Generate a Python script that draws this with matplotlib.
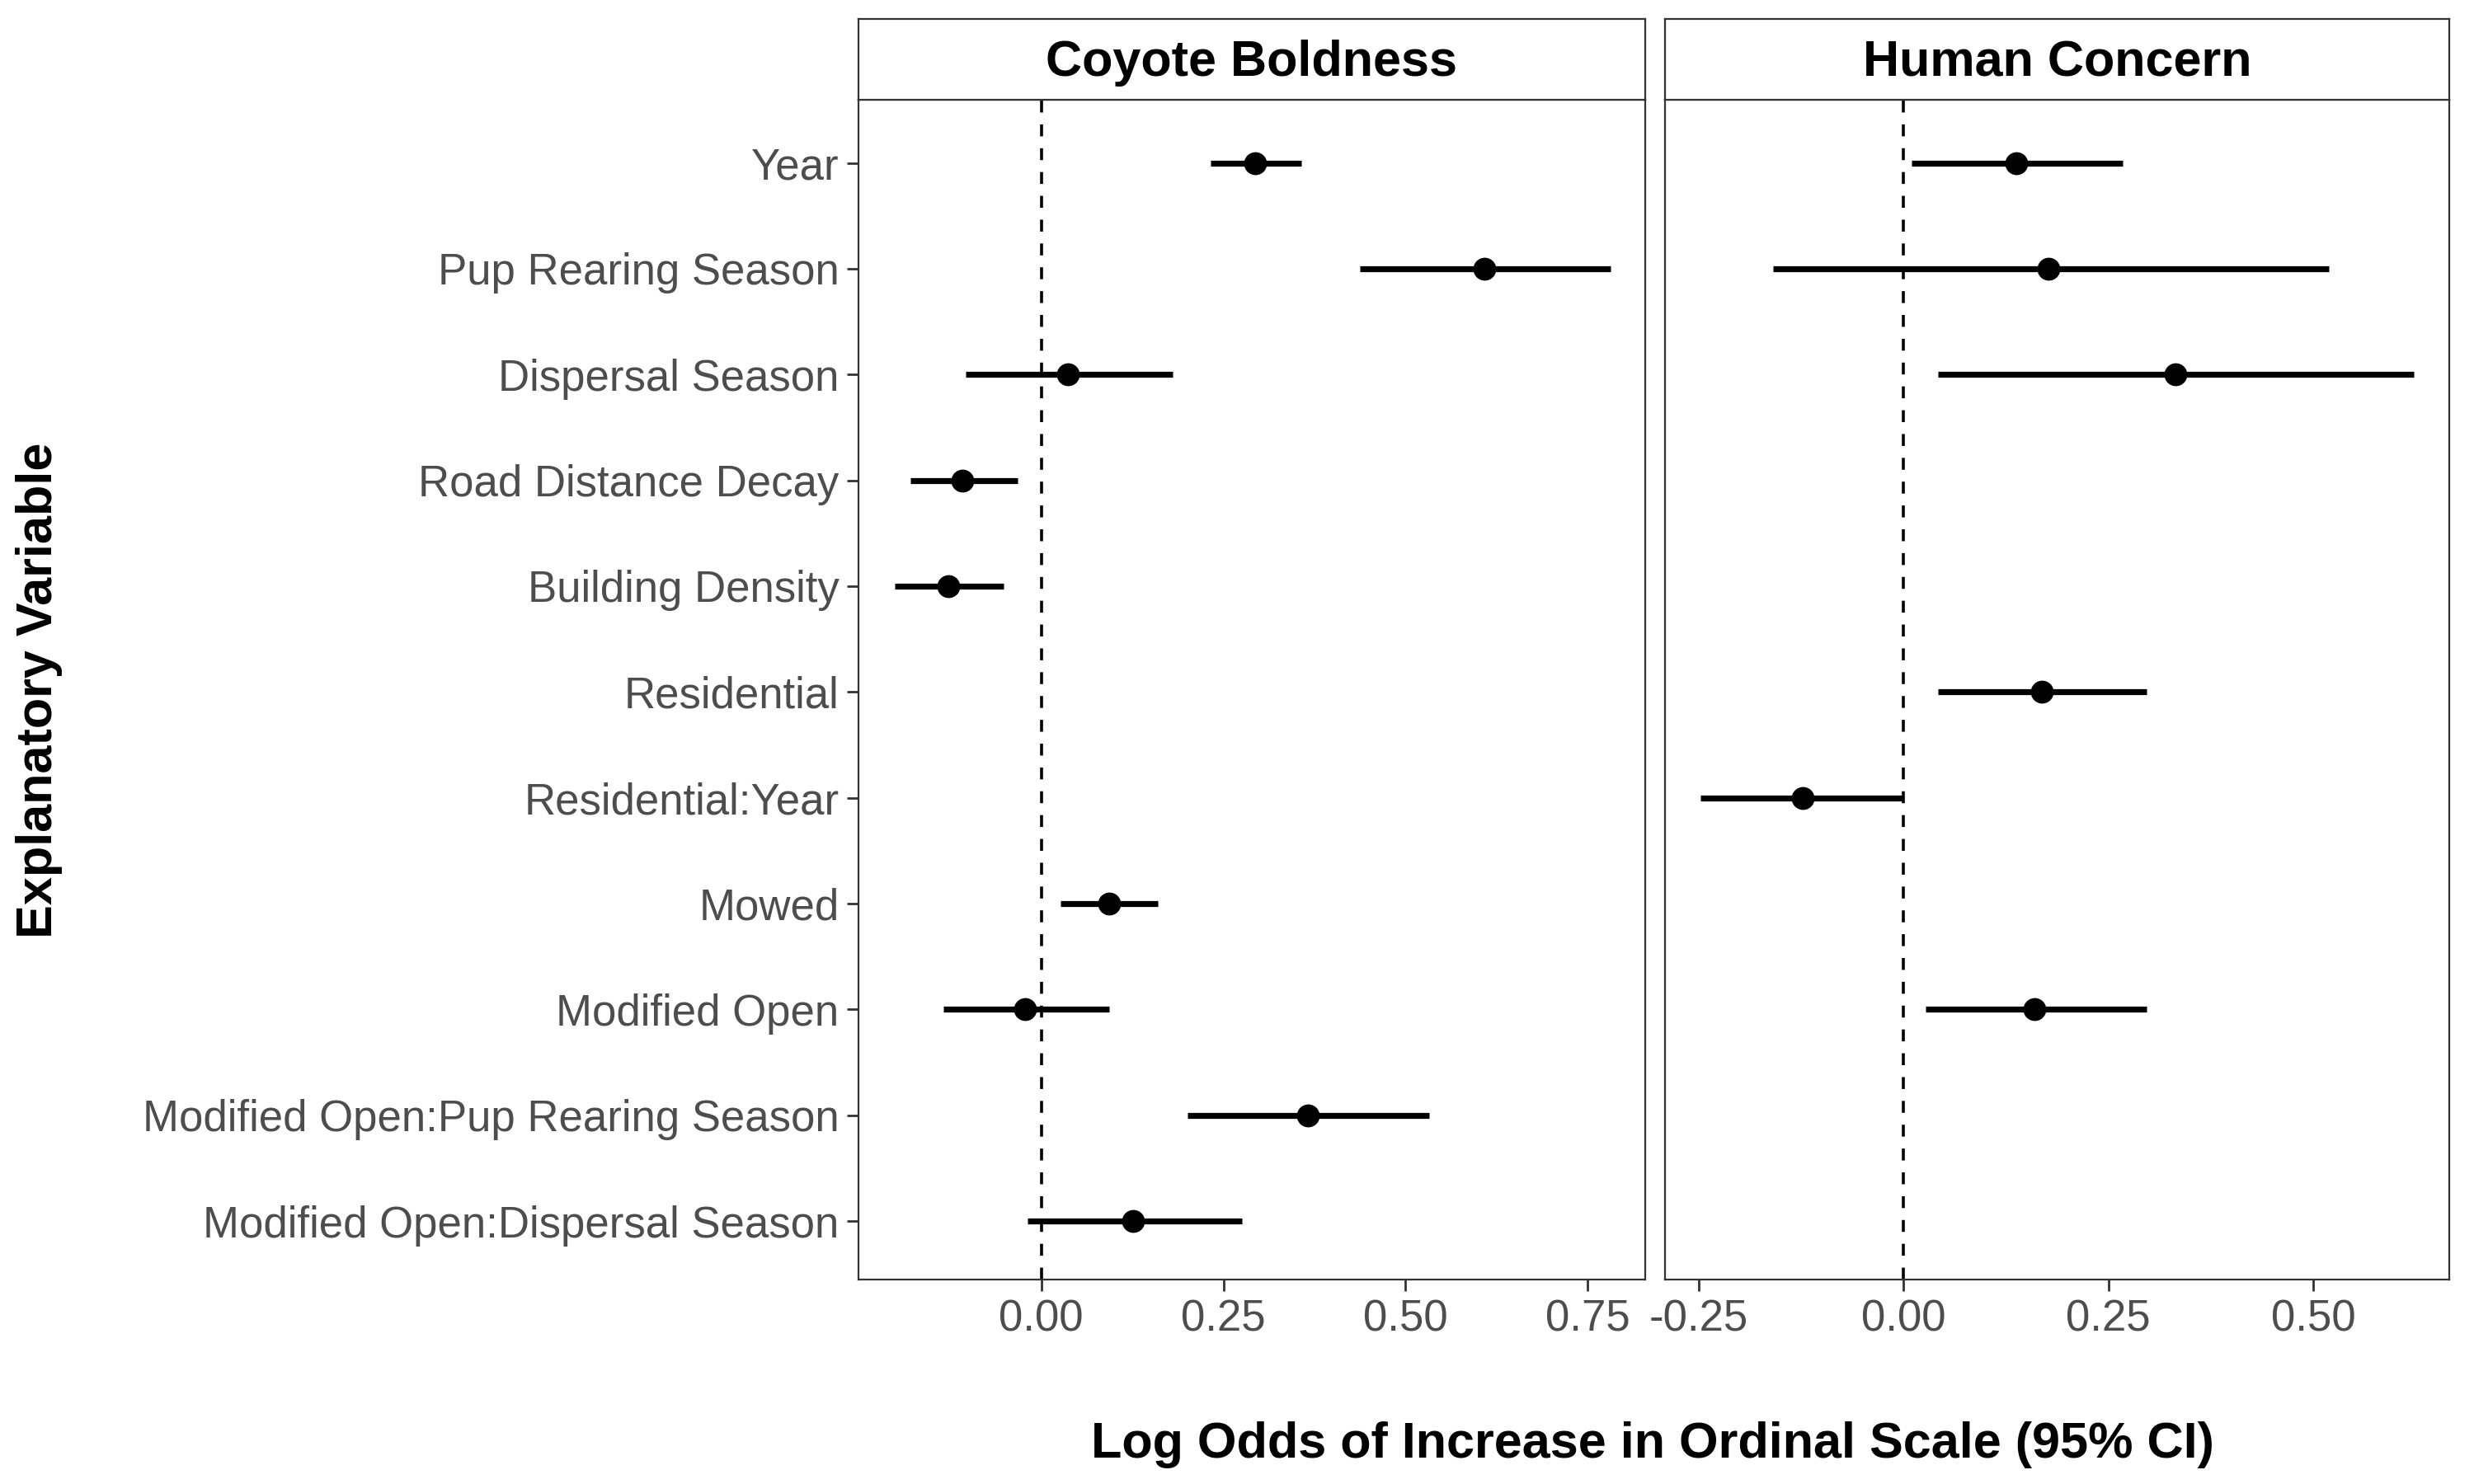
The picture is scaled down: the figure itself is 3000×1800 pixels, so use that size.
import numpy as np
import matplotlib.pyplot as plt

plt.rcParams['font.family'] = ['Arial', 'Liberation Sans', 'DejaVu Sans']

variables = ['Year', 'Pup Rearing Season', 'Dispersal Season', 'Road Distance Decay',
             'Building Density', 'Residential', 'Residential:Year', 'Mowed',
             'Modified Open', 'Modified Open:Pup Rearing Season',
             'Modified Open:Dispersal Season']

# coyote boldness (nan = not in model)
cb_est = [0.294, 0.608, 0.037, -0.108, -0.128, np.nan, np.nan, 0.093, -0.022, 0.366, 0.126]
cb_lo = [0.232, 0.437, -0.104, -0.180, -0.201, np.nan, np.nan, 0.026, -0.134, 0.201, -0.019]
cb_hi = [0.357, 0.781, 0.180, -0.032, -0.052, np.nan, np.nan, 0.160, 0.093, 0.532, 0.275]

# human concern
hc_est = [0.138, 0.177, 0.332, np.nan, np.nan, 0.169, -0.123, np.nan, 0.160, np.nan, np.nan]
hc_lo = [0.010, -0.159, 0.042, np.nan, np.nan, 0.042, -0.248, np.nan, 0.027, np.nan, np.nan]
hc_hi = [0.267, 0.519, 0.623, np.nan, np.nan, 0.297, 0.000, np.nan, 0.297, np.nan, np.nan]

fig = plt.figure(figsize=(15, 9), dpi=200)
y = np.arange(len(variables))

panels = [
    ('Coyote Boldness', cb_est, cb_lo, cb_hi, [0.347, 0.138, 0.318, 0.795], (-0.251, 0.829), [0, 0.25, 0.5, 0.75]),
    ('Human Concern', hc_est, hc_lo, hc_hi, [0.673, 0.138, 0.317, 0.795], (-0.291, 0.666), [-0.25, 0, 0.25, 0.5]),
]

for i, (title, est, lo, hi, rect, xl, ticks) in enumerate(panels):
    ax = fig.add_axes(rect)
    ax.axvline(0, color='black', ls=(0, (4, 4)), lw=1.3)
    for k in range(len(variables)):
        if np.isnan(est[k]):
            continue
        ax.plot([lo[k], hi[k]], [y[k], y[k]], color='black', lw=2.6, solid_capstyle='butt')
        ax.plot(est[k], y[k], 'o', color='black', ms=9)
    ax.set_xlim(*xl)
    ax.set_ylim(len(variables) - 0.45, -0.6)
    ax.set_xticks(ticks)
    ax.set_xticklabels(['%.2f' % t for t in ticks], fontsize=19, color='#4d4d4d')
    ax.set_yticks(y)
    ax.tick_params(colors='#333333', labelcolor='#4d4d4d', width=1, length=5)
    if i == 0:
        ax.set_yticklabels(variables, fontsize=19, color='#4d4d4d')
    else:
        ax.set_yticklabels([])
        ax.tick_params(axis='y', length=0)
    for s in ax.spines.values():
        s.set_color('#333333')
    # strip
    strip = fig.add_axes([rect[0], rect[1] + rect[3], rect[2], 0.987 - rect[1] - rect[3]])
    strip.set_xticks([])
    strip.set_yticks([])
    for s in strip.spines.values():
        s.set_color('#333333')
    strip.text(0.5, 0.45, title, ha='center', va='center', fontsize=22, fontweight='bold',
               transform=strip.transAxes)

fig.text(0.668, 0.018, 'Log Odds of Increase in Ordinal Scale (95% CI)', ha='center',
         fontsize=22, fontweight='bold')
fig.text(0.016, 0.535, 'Explanatory Variable', rotation=90, va='center', ha='center',
         fontsize=22, fontweight='bold')

plt.savefig('out.png', dpi=200)
